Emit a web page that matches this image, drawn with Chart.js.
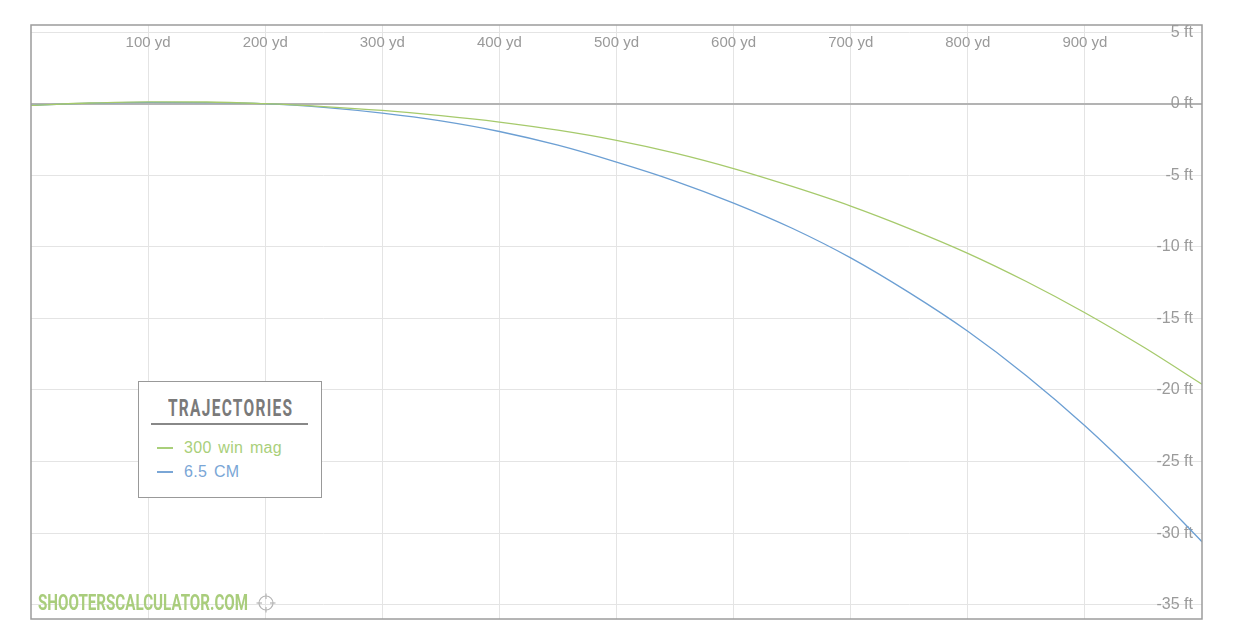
<!DOCTYPE html>
<html><head><meta charset="utf-8">
<script src="https://cdn.jsdelivr.net/npm/chart.js@4.4.1/dist/chart.umd.min.js"></script>
<style>
html,body{margin:0;padding:0;background:#fff;}
#wrap{position:relative;width:1244px;height:644px;overflow:hidden;}
canvas{display:block;}
#legend{position:absolute;left:138px;top:381px;width:184px;height:117px;border:1.5px solid #999;background:#fff;box-sizing:border-box;font-family:"Liberation Sans",Arial,sans-serif;}
.fit{position:absolute;white-space:nowrap;transform-origin:0 0;}
#ltitle{left:29px;top:14px;font-family:Roboto,"Liberation Sans",sans-serif;font-weight:bold;font-size:24px;line-height:24px;color:#7a7a7a;letter-spacing:2px;}
#lrule{position:absolute;left:12px;top:41px;width:157px;height:2px;background:#888;}
.item{position:absolute;left:18px;font-size:16px;line-height:18px;white-space:nowrap;letter-spacing:0.3px;word-spacing:2px;}
.item span.dash{display:inline-block;width:16px;height:1.5px;vertical-align:middle;margin-right:11px;position:relative;top:-1px;}
#wm{left:38px;top:593px;font-family:Roboto,"Liberation Sans",sans-serif;font-weight:bold;font-size:22px;line-height:20px;color:#a9cd7c;}
#cross{position:absolute;left:255px;top:593px;}
</style></head>
<body>
<div id="wrap">
<canvas id="c" width="1244" height="644"></canvas>
<div id="legend">
  <div id="ltitle" class="fit">TRAJECTORIES</div>
  <div id="lrule"></div>
  <div class="item" id="li0" style="top:57px;color:#a9cf7a;"><span class="dash" style="background:#a9cf7a"></span><span class="txt"></span></div>
  <div class="item" id="li1" style="top:81px;color:#7aa6d6;"><span class="dash" style="background:#7aa6d6"></span><span class="txt"></span></div>
</div>
<div id="wm" class="fit">SHOOTERSCALCULATOR.COM</div>
<svg id="cross" width="22" height="22" viewBox="0 0 22 22">
  <circle cx="11" cy="10" r="7" fill="none" stroke="#b5b5b5" stroke-width="1.2"/>
  <line x1="11" y1="0.5" x2="11" y2="6" stroke="#b5b5b5" stroke-width="1.2"/>
  <line x1="11" y1="14" x2="11" y2="19.5" stroke="#b5b5b5" stroke-width="1.2"/>
  <line x1="1.5" y1="10" x2="7" y2="10" stroke="#b5b5b5" stroke-width="1.2"/>
  <line x1="15" y1="10" x2="20.5" y2="10" stroke="#b5b5b5" stroke-width="1.2"/>
</svg>
</div>
<script>
// ---- data (range in yards, drop in feet) ----
const rangesYd = [0,50,100,150,200,250,300,350,400,450,500,550,600,650,700,750,800,850,900,950,1000];
const win300mag = [-0.12,0.05,0.13,0.12,0.0,-0.2,-0.47,-0.83,-1.28,-1.85,-2.56,-3.45,-4.53,-5.78,-7.15,-8.72,-10.45,-12.42,-14.6,-17.0,-19.6];
const cm65 = [-0.12,0.04,0.1,0.08,0.0,-0.25,-0.65,-1.2,-1.94,-2.9,-4.08,-5.4,-6.94,-8.7,-10.77,-13.2,-15.9,-19.0,-22.5,-26.4,-30.6];
const seriesNames = ['300 win mag','6.5 CM'];
const seriesColors = ['#a6ca6c','#6c9fd3'];
const xTickValues = [100,200,300,400,500,600,700,800,900];
const yTickValues = [5,0,-5,-10,-15,-20,-25,-30,-35];
const xUnit = 'yd', yUnit = 'ft';

document.querySelector('#li0 .txt').textContent = seriesNames[0];
document.querySelector('#li1 .txt').textContent = seriesNames[1];

const toPts = arr => arr.map((v,i)=>({x:rangesYd[i], y:v}));

const frame = {
  id:'frame',
  afterDraw(chart){
    const {ctx, chartArea:a, scales} = chart;
    ctx.save();
    // x tick labels inside the plot, near the top
    ctx.font = '15px "Liberation Sans", Arial, sans-serif';
    ctx.fillStyle = '#9a9a9a';
    ctx.textAlign = 'center';
    ctx.textBaseline = 'middle';
    xTickValues.forEach(v=>{
      ctx.fillText(v + ' ' + xUnit, scales.x.getPixelForValue(v), a.top + 18);
    });
    ctx.strokeStyle = '#9c9c9c';
    ctx.lineWidth = 1.5;
    ctx.strokeRect(a.left, a.top, a.right - a.left, a.bottom - a.top);
    ctx.restore();
  }
};

new Chart(document.getElementById('c'), {
  type:'line',
  data:{
    datasets:[
      {label:seriesNames[0], data:toPts(win300mag), borderColor:seriesColors[0], borderWidth:1.3, pointRadius:0, cubicInterpolationMode:'monotone', fill:false},
      {label:seriesNames[1], data:toPts(cm65), borderColor:seriesColors[1], borderWidth:1.3, pointRadius:0, cubicInterpolationMode:'monotone', fill:false}
    ]
  },
  options:{
    responsive:false, animation:false,
    layout:{padding:{left:31, right:42, top:25, bottom:25}},
    plugins:{legend:{display:false}, tooltip:{enabled:false}},
    scales:{
      x:{type:'linear', min:0, max:1000, position:'bottom',
        afterBuildTicks(s){ s.ticks = xTickValues.map(v=>({value:v})); },
        afterFit(s){ s.height = 0; },
        ticks:{display:false},
        grid:{color:'#e4e4e4', lineWidth:1, drawTicks:false},
        border:{display:false}},
      y:{type:'linear', min:-36, max:5.5, position:'right',
        afterBuildTicks(s){ s.ticks = yTickValues.map(v=>({value:v})); },
        afterFit(s){ s.width = 0; },
        ticks:{mirror:true, padding:-9, color:'#9a9a9a', font:{family:'"Liberation Sans", Arial, sans-serif', size:16},
          callback:v=> v + ' ' + yUnit},
        grid:{drawTicks:false, color:c=> c.tick && c.tick.value===0 ? '#b3b3b3' : '#e4e4e4', lineWidth:c=> c.tick && c.tick.value===0 ? 2 : 1},
        border:{display:false}}
    }
  },
  plugins:[frame]
});

function fitWidth(el, w){
  const nat = el.scrollWidth;
  el.style.transform = 'scaleX(' + (w/nat) + ')';
}
fitWidth(document.getElementById('ltitle'), 125);
fitWidth(document.getElementById('wm'), 210);
</script>
</body></html>
